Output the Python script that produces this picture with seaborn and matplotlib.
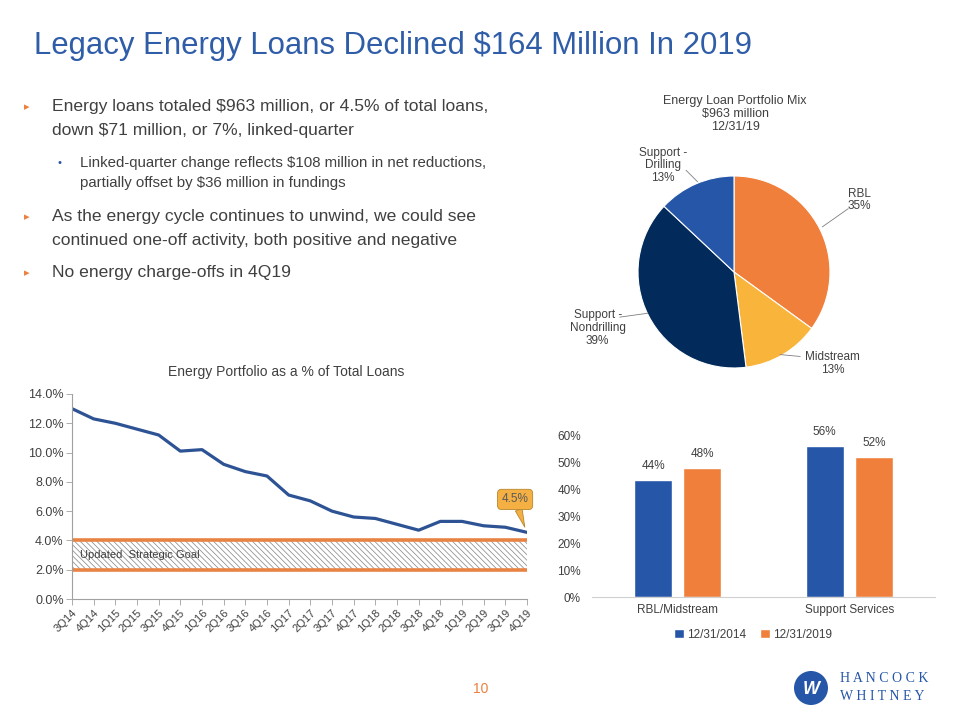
import numpy as np
import pandas as pd
import seaborn as sns
import matplotlib.pyplot as plt
from matplotlib.patches import Circle

# line chart data
quarters = ['3Q14', '4Q14', '1Q15', '2Q15', '3Q15', '4Q15', '1Q16', '2Q16', '3Q16', '4Q16', '1Q17',
            '2Q17', '3Q17', '4Q17', '1Q18', '2Q18', '3Q18', '4Q18', '1Q19', '2Q19', '3Q19', '4Q19']
energy_pct = [13.0, 12.3, 12.0, 11.6, 11.2, 10.1, 10.2, 9.2, 8.7, 8.4, 7.1,
              6.7, 6.0, 5.6, 5.5, 5.1, 4.7, 5.3, 5.3, 5.0, 4.9, 4.55]
goal_low = 2.0
goal_high = 4.0

# pie data
pie_labels = ['RBL', 'Midstream', 'Support -\nNondrilling', 'Support -\nDrilling']
pie_pct = [35, 13, 39, 13]

# bar data
bar_groups = ['RBL/Midstream', 'RBL/Midstream', 'Support Services', 'Support Services']
bar_dates = ['12/31/2014', '12/31/2019', '12/31/2014', '12/31/2019']
bar_pct = [43.6, 48.0, 56.3, 52.1]

BLUE = '#2656A8'
NAVY = '#022B5C'
ORANGE = '#EF7F3B'
GOLD = '#F9B43B'
TXT = '#404040'
FONT = 'Liberation Sans'

sns.set_style('white')
plt.rcParams['font.family'] = [FONT, 'DejaVu Sans']
plt.rcParams['hatch.linewidth'] = 0.55

fig = plt.figure(figsize=(9.6, 7.2), dpi=100)
fig.patch.set_facecolor('white')


def px(x, y):
    return x / 960, 1 - y / 720


# title + bullets
fig.text(*px(34, 46), 'Legacy Energy Loans Declined $164 Million In 2019', fontsize=22.4,
         color='#2F5DA8', va='center', ha='left')

bullets = [
    (107, 'Energy loans totaled $963 million, or 4.5% of total loans,', True, 12.6),
    (131, 'down $71 million, or 7%, linked-quarter', False, 12.6),
    (163, 'Linked-quarter change reflects $108 million in net reductions,', 'sub', 10.8),
    (183, 'partially offset by $36 million in fundings', False, 10.8),
    (217, 'As the energy cycle continues to unwind, we could see', True, 12.6),
    (241, 'continued one-off activity, both positive and negative', False, 12.6),
    (273, 'No energy charge-offs in 4Q19', True, 12.6),
]
for y, txt, mark, size in bullets:
    x0 = 80 if size < 11 else 52
    fig.text(*px(x0, y), txt, fontsize=size, color=TXT, va='center', ha='left')
    if mark is True:
        fig.text(*px(24, y), '\u25b8', fontsize=8, color=ORANGE, va='center', ha='left',
                 family='DejaVu Sans')
    elif mark == 'sub':
        fig.text(*px(57, y), '\u2022', fontsize=8, color=BLUE, va='center', ha='left')

# ---------- line chart ----------
ax1 = fig.add_axes([72 / 960, 121 / 720, 455 / 960, 205 / 720])
df_line = pd.DataFrame({'quarter': quarters, 'pct': energy_pct})
sns.lineplot(data=df_line, x='quarter', y='pct', ax=ax1, color='#2E5395', linewidth=2.3,
             sort=False)
ax1.fill_between([0, len(quarters) - 1], goal_low, goal_high, facecolor='white',
                 edgecolor='#8C8C8C', hatch='\\\\\\\\\\\\', linewidth=0)
ax1.axhline(goal_low, color='#E98344', linewidth=2.6)
ax1.axhline(goal_high, color='#E98344', linewidth=2.6)
ax1.text(0.35, 3.0, 'Updated  Strategic Goal', fontsize=8, color=TXT, va='center',
         bbox=dict(fc='none', ec='none'))
ax1.set_xlim(0, len(quarters) - 1)
ax1.set_ylim(0, 14)
ax1.set_yticks(np.arange(0, 14.1, 2))
ax1.set_yticklabels([f'{v:.1f}%' for v in np.arange(0, 14.1, 2)])
ax1.set_xticks(range(len(quarters)))
ax1.set_xticklabels(quarters, rotation=45, ha='right', rotation_mode='anchor')
ax1.tick_params(axis='x', labelsize=8, colors=TXT, length=4, width=0.6, color='#A0A0A0', pad=2,
                bottom=True)
ax1.tick_params(axis='y', labelsize=9, colors=TXT, length=4, width=0.6, color='#A0A0A0', pad=2,
                left=True)
for s in ['top', 'right']:
    ax1.spines[s].set_visible(False)
for s in ['left', 'bottom']:
    ax1.spines[s].set_color('#A0A0A0')
    ax1.spines[s].set_linewidth(0.8)
ax1.set_xlabel('')
ax1.set_ylabel('')
ax1.set_title('Energy Portfolio as a % of Total Loans', fontsize=10, color=TXT, pad=13, x=0.47)
ax1.annotate('4.5%', xy=(len(quarters) - 1 - 0.1, energy_pct[-1] + 0.35),
             xytext=(20.45, 6.8), ha='center', va='center', fontsize=8.5, color='#595959',
             bbox=dict(boxstyle='round,pad=0.35', fc='#F4B043', ec='#B8862B', lw=0.6),
             arrowprops=dict(arrowstyle='wedge,tail_width=0.6', fc='#F4B043', ec='#B8862B',
                             lw=0.6, shrinkA=0, shrinkB=0))

# ---------- pie ----------
ax2 = fig.add_axes([(734 - 96) / 960, (720 - 272 - 96) / 720, 192 / 960, 192 / 720])
wedges, _ = ax2.pie(pie_pct, colors=[ORANGE, GOLD, NAVY, BLUE], startangle=90,
                    counterclock=False, radius=1,
                    wedgeprops=dict(edgecolor='white', linewidth=0.8))
ax2.set_xlim(-1, 1)
ax2.set_ylim(-1, 1)
ax2.set_aspect('equal')
ax2.axis('off')
label_pos = [(1.31, 0.75), (1.03, -0.95), (-1.42, -0.58), (-0.74, 1.11)]
line_pts = [((0.92, 0.47), (1.19, 0.66)), ((0.48, -0.86), (0.69, -0.88)),
            ((-0.90, -0.43), (-1.19, -0.47)), ((-0.38, 0.94), (-0.50, 1.06))]
for lab, p, (a, b), (lx, ly) in zip(pie_labels, pie_pct, line_pts, label_pos):
    ax2.text(lx, ly, f'{lab}\n{p}%', ha='center', va='center', fontsize=8.5, color=TXT,
             clip_on=False, linespacing=1.1)
    ax2.plot([a[0], b[0]], [a[1], b[1]], color='#7F7F7F', lw=0.6, clip_on=False)
fig.text(*px(735, 114), 'Energy Loan Portfolio Mix\n$963 million\n12/31/19', ha='center',
         va='center', fontsize=9, color=TXT, linespacing=1.15)

# ---------- bar chart ----------
ax3 = fig.add_axes([592 / 960, 123 / 720, 343 / 960, 161 / 720])
df_bar = pd.DataFrame({'group': bar_groups, 'date': bar_dates, 'pct': bar_pct})
sns.barplot(data=df_bar, x='group', y='pct', hue='date', palette=[BLUE, ORANGE],
            width=0.573, gap=0.225, ax=ax3, saturation=1)
for cont in ax3.containers:
    ax3.bar_label(cont, labels=[f'{v:.0f}%' for v in cont.datavalues], padding=6,
                  fontsize=8.5, color=TXT)
ax3.set_ylim(0, 60)
ax3.set_xlim(-0.5, 1.5)
ax3.set_yticks(range(0, 61, 10))
ax3.set_yticklabels([f'{v}%' for v in range(0, 61, 10)])
ax3.tick_params(axis='both', labelsize=8.5, colors=TXT, length=0)
ax3.tick_params(axis='y', pad=8)
ax3.tick_params(axis='x', pad=5)
for s in ['top', 'right', 'left']:
    ax3.spines[s].set_visible(False)
ax3.spines['bottom'].set_color('#D0D0D0')
ax3.set_xlabel('')
ax3.set_ylabel('')
ax3.legend(loc='upper center', bbox_to_anchor=(0.47, -0.13), ncol=2, frameon=False,
           fontsize=8.5, handlelength=0.8, handleheight=0.8, handletextpad=0.3,
           columnspacing=1.2, labelcolor=TXT)

# page number + logo
fig.text(*px(481, 689), '10', fontsize=10, color=ORANGE, ha='center', va='center')
fig.add_artist(Circle((8.11, 7.2 - 6.88), radius=0.17, transform=fig.dpi_scale_trans,
                      facecolor=BLUE, edgecolor='none'))
fig.text(*px(811, 689), 'W', fontsize=13, color='white', fontweight='bold', ha='center',
         va='center', style='italic')
fig.text(*px(840, 679), 'H A N C O C K', fontsize=10, color=BLUE, family='Liberation Serif',
         va='center', ha='left')
fig.text(*px(840, 697), 'W H I T N E Y', fontsize=10, color=BLUE, family='Liberation Serif',
         va='center', ha='left')

fig.savefig('out.png', dpi=100)
